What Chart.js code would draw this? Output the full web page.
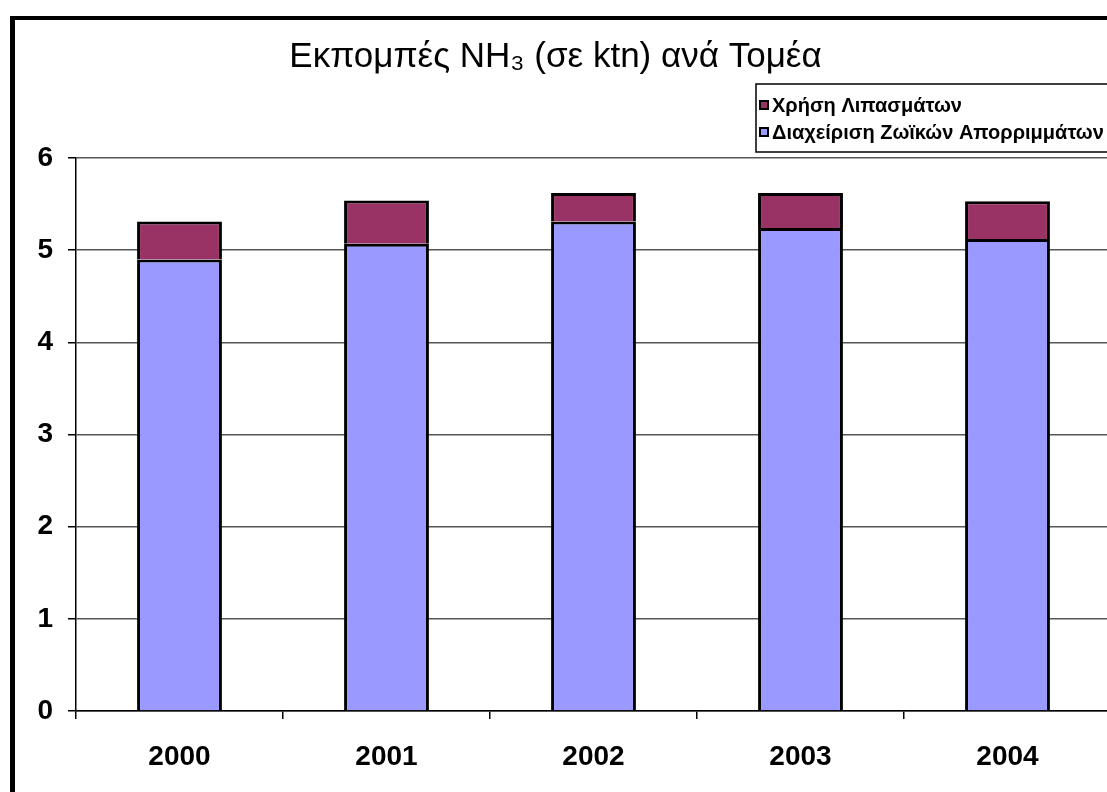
<!DOCTYPE html>
<html>
<head>
<meta charset="utf-8">
<script src="https://cdn.jsdelivr.net/npm/chart.js@4/dist/chart.umd.min.js"></script>
<style>
  html, body { margin: 0; padding: 0; background: #fff; overflow: hidden; }
  #wrap { position: absolute; left: 0; top: 0; width: 1115px; height: 792px; }
  #frame {
    position: absolute; left: 10px; top: 16px; width: 1200px; height: 900px;
    border-left: 5px solid #000; border-top: 4px solid #000; pointer-events: none;
  }
</style>
</head>
<body>
<div id="wrap"><canvas id="chartCanvas" width="1115" height="792"></canvas></div>
<div id="frame"></div>
<script>
  // Δεδομένα (ktn)
  const years = ["2000", "2001", "2002", "2003", "2004"];
  const animalWaste = [4.90, 5.07, 5.31, 5.24, 5.12];
  const fertilizers = [0.41, 0.47, 0.31, 0.38, 0.41];
  const yTicks = [0, 1, 2, 3, 4, 5, 6];

  const titleText = "Εκπομπές NH₃ (σε ktn) ανά Τομέα";
  const wasteLabel = "Διαχείριση Ζωϊκών Απορριμμάτων";
  const fertLabel = "Χρήση Λιπασμάτων";

  const FONT = "'Liberation Sans', Arial, sans-serif";

  // Υπόμνημα σε πλαίσιο, πάνω δεξιά
  const boxLegend = {
    id: "boxLegend",
    afterDraw(chart) {
      const c = chart.ctx;
      const x = 756, y = 84, w = 400, h = 68;
      c.save();
      c.fillStyle = "#fff";
      c.fillRect(x, y, w, h);
      c.strokeStyle = "#000";
      c.lineWidth = 1.5;
      c.strokeRect(x, y, w, h);
      const items = [chart.data.datasets[1], chart.data.datasets[0]];
      items.forEach((ds, i) => {
        const cy = 105 + i * 27;
        c.fillStyle = ds.backgroundColor;
        c.fillRect(760, cy - 4, 8, 8);
        c.lineWidth = 2;
        c.strokeStyle = "#000";
        c.strokeRect(760, cy - 4, 8, 8);
        c.fillStyle = "#000";
        c.font = "bold 20px " + FONT;
        c.textAlign = "left";
        c.textBaseline = "middle";
        c.fillText(ds.label, 772, cy + 1);
      });
      c.restore();
    }
  };

  const ctx = document.getElementById("chartCanvas").getContext("2d");

  new Chart(ctx, {
    type: "bar",
    data: {
      labels: years,
      datasets: [
        {
          label: wasteLabel,
          data: animalWaste,
          backgroundColor: "#9999FF",
          borderColor: "#000",
          borderWidth: 3,
          categoryPercentage: 1,
          barPercentage: 0.41
        },
        {
          label: fertLabel,
          data: fertilizers,
          backgroundColor: "#993366",
          borderColor: "#000",
          borderWidth: 3,
          categoryPercentage: 1,
          barPercentage: 0.41
        }
      ]
    },
    options: {
      responsive: false,
      animation: false,
      layout: { padding: { left: 0, right: 4, top: 0, bottom: 0 } },
      plugins: {
        legend: { display: false },
        tooltip: { enabled: false },
        title: {
          display: true,
          text: titleText,
          color: "#000",
          font: { family: FONT, size: 35, weight: "normal" },
          padding: { top: 36, bottom: 80 }
        }
      },
      scales: {
        x: {
          stacked: true,
          offset: true,
          afterFit: (s) => { s.height = 81; },
          grid: { offset: true, drawOnChartArea: false, tickLength: 8, tickColor: "#000", lineWidth: 1.5 },
          border: { color: "#000", width: 1.5 },
          ticks: { color: "#000", padding: 21, font: { family: FONT, size: 28, weight: "bold" } }
        },
        y: {
          stacked: true,
          min: 0,
          max: 6,
          afterFit: (s) => { s.width = 76; },
          afterBuildTicks: (s) => { s.ticks = yTicks.map((v) => ({ value: v })); },
          grid: { color: "#555", lineWidth: 1.5, tickLength: 8, tickColor: "#000" },
          border: { color: "#000", width: 1.5 },
          ticks: { color: "#000", padding: 15, font: { family: FONT, size: 28, weight: "bold" } }
        }
      }
    },
    plugins: [boxLegend]
  });
</script>
</body>
</html>
